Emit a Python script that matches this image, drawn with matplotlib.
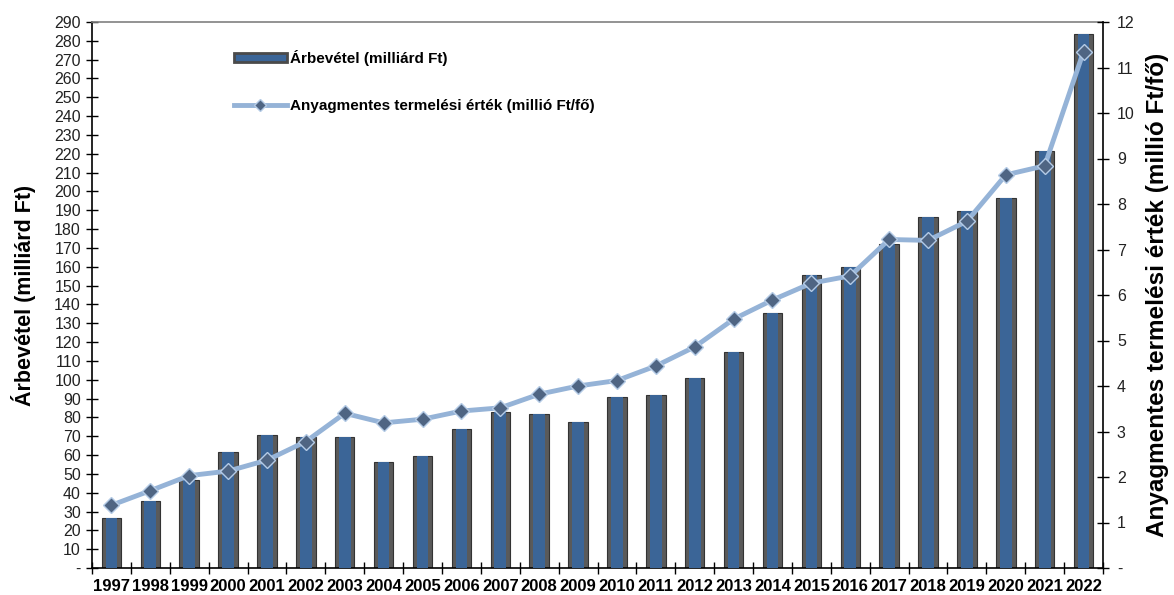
import matplotlib
matplotlib.use("Agg")
import matplotlib.pyplot as plt
import numpy as np
from matplotlib.patches import Patch
from matplotlib.lines import Line2D

plt.rcParams['font.family'] = ['Liberation Sans', 'DejaVu Sans']

years = [str(y) for y in range(1997, 2023)]
arbevetel = [26.7, 35.7, 46.6, 61.6, 70.5, 69.6, 69.6, 56.3, 59.5, 73.8, 83.0, 82.0,
             77.5, 91.0, 92.0, 100.7, 114.9, 135.3, 155.6, 160.0, 172.0, 186.4, 189.7,
             196.7, 221.6, 283.4]
anyagmentes = [1.38, 1.70, 2.03, 2.13, 2.37, 2.78, 3.40, 3.19, 3.27, 3.45, 3.52, 3.82,
               4.00, 4.12, 4.44, 4.86, 5.47, 5.89, 6.26, 6.42, 7.22, 7.20, 7.62, 8.64,
               8.84, 11.35]
left_ticks = list(range(0, 291, 10))
right_ticks = list(range(0, 13))

label_bar = "Árbevétel (milliárd Ft)"
label_line = "Anyagmentes termelési érték (millió Ft/fő)"

fig = plt.figure(figsize=(11.74, 5.95), dpi=100)
ax = fig.add_axes([92/1174, 1-568/595, (1103-92)/1174, (568-22)/595])
x = np.arange(len(years))

ax.bar(x, arbevetel, width=0.5, color='#5a5a5a', edgecolor='#333333', linewidth=0.8, zorder=2)
ax.bar(x, arbevetel, width=0.30, color='#3b6597', linewidth=0, zorder=3)

ax.set_xlim(-0.5, len(years) - 0.5)
ax.set_ylim(0, 290)
ax.set_yticks(left_ticks)
ax.set_yticklabels(['-' if t == 0 else str(t) for t in left_ticks], fontsize=11.5, color='#222222')
ax.set_xticks(np.arange(-0.5, len(years), 1.0))
ax.set_xticklabels([])
ax.set_xticks(x, minor=True)
ax.set_xticklabels(years, minor=True, fontsize=12, fontweight='bold')
ax.tick_params(axis='x', which='minor', length=0, pad=8)
ax.tick_params(axis='x', which='major', direction='inout', length=8, width=1)
ax.tick_params(axis='y', direction='inout', length=8, width=1, pad=4)
ax.spines['top'].set_color('#808080')
ax.spines['top'].set_linewidth(1.2)
ax.spines['right'].set_visible(False)
ax.spines['left'].set_linewidth(1.2)
ax.spines['bottom'].set_linewidth(1.2)
ax.set_ylabel(label_bar, fontsize=15.5, fontweight='bold', labelpad=13)

ax2 = ax.twinx()
ax2.plot(x, anyagmentes, color='#95b3d7', linewidth=3.5, zorder=5,
         marker='D', markersize=8.5, markerfacecolor='#4f6583', markeredgecolor='#b4cbe6',
         markeredgewidth=1.0)
ax2.set_ylim(0, 12)
ax2.set_yticks(right_ticks)
ax2.set_yticklabels(['-' if t == 0 else str(t) for t in right_ticks], fontsize=11.5, color='#222222')
ax2.tick_params(axis='y', direction='inout', length=8, width=1, pad=6)
ax2.spines['top'].set_visible(False)
ax2.spines['left'].set_visible(False)
ax2.spines['bottom'].set_visible(False)
ax2.spines['right'].set_linewidth(1.2)
ax2.set_ylabel(label_line, fontsize=17.5, fontweight='bold', labelpad=8)

handles = [Patch(facecolor='#3b6597', edgecolor='#4a4a4a', linewidth=2),
           Line2D([0], [0], color='#95b3d7', linewidth=3.5, marker='D', markersize=6,
                  markerfacecolor='#4f6583', markeredgecolor='#b4cbe6')]
leg = fig.legend(handles, [label_bar, label_line], loc='upper left',
                 bbox_to_anchor=(220/1174, 1-36/595), frameon=False,
                 prop={'weight': 'bold', 'size': 11}, handlelength=3.5,
                 handleheight=0.6, labelspacing=2.2, handletextpad=0.2)

fig.savefig('out.png', dpi=100)
